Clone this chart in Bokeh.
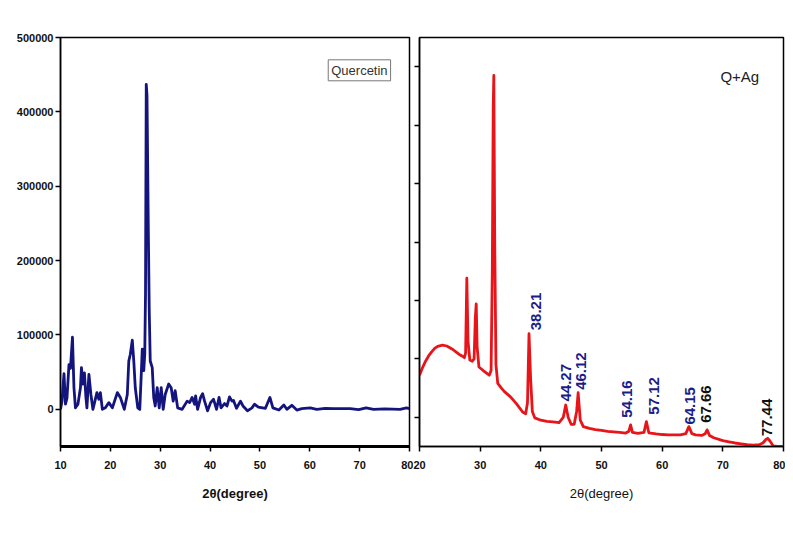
import math
from bokeh.plotting import figure
from bokeh.layouts import row
from bokeh.models import Range1d, FixedTicker, Label, NumeralTickFormatter, CustomJSTickFormatter
from bokeh.embed import file_html
from bokeh.resources import INLINE
from bokeh.core.properties import value

# ---------------- data ----------------
# Quercetin XRD (2theta, intensity)
q_theta = [10.0, 10.3, 10.7, 11.0, 11.3, 11.7, 12.0, 12.4, 12.7, 13.0, 13.5, 14.0, 14.2, 14.5, 14.8,
           15.1, 15.3, 15.7, 16.1, 16.5, 16.9, 17.3, 17.7, 18.0, 18.4, 19.0, 19.7, 20.4, 21.4, 22.0,
           22.8, 23.4, 23.7, 24.0, 24.4, 24.7, 25.0, 25.5, 25.9, 26.2, 26.4, 26.7, 26.9, 27.05, 27.2,
           27.35, 27.5, 27.6, 27.8, 28.0, 28.4, 28.7, 29.0, 29.4, 29.8, 30.2, 30.6, 31.0, 31.7, 32.2,
           32.6, 33.0, 33.5, 34.4, 35.4, 35.9, 36.4, 36.9, 37.1, 37.5, 38.1, 38.5, 38.9, 39.5, 40.1,
           40.7, 41.3, 41.8, 42.2, 42.9, 43.4, 43.9, 44.4, 44.7, 45.3, 46.1, 46.6, 47.5, 48.4, 48.9,
           49.7, 51.1, 52.0, 52.6, 53.8, 54.8, 55.4, 56.4, 57.4, 58.4, 60.1, 61.4, 63.1, 64.8, 66.5,
           68.1, 69.8, 71.3, 72.8, 75.0, 78.1, 79.4, 80.0]
q_intensity = [0, 11000, 48000, 7000, 15000, 60000, 55000, 97000, 29000, 2000, 7000, 29000, 56000, 34000, 49000,
               16000, 2000, 47000, 20000, 0, 11000, 22500, 13500, 22500, 0, 2000, 9000, 2000, 22500, 16000,
               0, 20000, 65000, 74000, 93000, 65000, 29000, 2000, 0, 47000, 81000, 52000, 74000, 155000, 437000,
               422000, 318000, 250000, 133000, 65000, 56000, 16000, 4500, 29000, 2000, 29000, 0, 20000, 34000, 29000,
               11000, 25000, 2000, 0, 11000, 9000, 16000, 6800, 18000, 0, 16000, 21000, 11000, -2000, 9000,
               13500, 0, 16000, 2000, 7700, 4500, 16700, 11000, 12000, 1400, 11000, 4500, -2000, 2000, 6800,
               3000, 1400, 16000, 2000, -1000, 5800, 0, 5400, -1000, 1000, 2000, 0, 1400, 1000, 1000,
               1000, -500, 2000, 0, 500, 0, 2000, 1000]

# Quercetin + Ag XRD (2theta, intensity, arbitrary units)
qa_theta = [20.0, 20.5, 21.0, 21.5, 22.0, 22.5, 23.0, 23.8, 24.5, 25.0, 25.5, 26.0, 26.5, 27.0, 27.4,
            27.6, 27.8, 28.0, 28.3, 28.7, 29.0, 29.2, 29.35, 29.5, 29.8, 30.5, 31.0, 31.5, 31.8, 32.0,
            32.15, 32.25, 32.4, 32.6, 32.9, 33.5, 34.0, 35.0, 36.0, 37.0, 37.5, 37.8, 38.05, 38.3, 38.6,
            39.0, 40.0, 41.0, 42.0, 43.0, 43.7, 44.1, 44.5, 45.0, 45.5, 45.9, 46.15, 46.5, 47.0, 48.0,
            49.0, 50.0, 51.0, 52.0, 53.0, 54.0, 54.5, 54.8, 55.1, 56.0, 57.0, 57.4, 57.8, 59.0, 60.0,
            61.0, 62.0, 63.0, 63.9, 64.4, 64.9, 65.5, 66.5, 67.1, 67.4, 67.8, 68.5, 70.0, 71.0, 72.0,
            73.0, 74.0, 75.0, 76.0, 76.6, 77.1, 77.4, 77.8, 78.3, 79.0, 80.0]
qa_intensity = [1720, 1850, 1960, 2050, 2120, 2180, 2215, 2235, 2220, 2190, 2160, 2120, 2080, 2050, 2020,
                2100, 3380, 2300, 1980, 1960, 2000, 2700, 2940, 2200, 1860, 1800, 1760, 1720, 1800, 3500,
                6300, 6850, 4000, 1900, 1580, 1500, 1440, 1350, 1230, 1090, 1060, 1250, 2430, 1700, 1100,
                990, 950, 930, 920, 910, 1000, 1210, 1000, 880, 880, 1100, 1420, 950, 840, 810,
                790, 775, 760, 750, 740, 730, 760, 870, 740, 725, 740, 925, 735, 715, 705,
                700, 700, 698, 720, 840, 720, 700, 690, 720, 785, 690, 650, 600, 580, 560,
                545, 530, 525, 530, 560, 620, 640, 590, 510, 500, 500]

peak_labels = ["38.21", "44.27", "46.12", "54.16", "57.12", "64.15", "67.66", "77.44"]
label_theta = [39.15, 44.15, 46.65, 54.25, 58.6, 64.6, 67.3, 77.2]
label_intensity = [2490, 1270, 1470, 990, 1045, 875, 905, 675]

q_xticks = [10, 20, 30, 40, 50, 60, 70, 80]
q_yticks = [0, 100000, 200000, 300000, 400000, 500000]
qa_xticks = [20, 30, 40, 50, 60, 70, 80]
qa_yticks = [1000, 2000, 3000, 4000, 5000, 6000, 7000]

# ---------------- styling ----------------
FONT = "Liberation Sans"
BLUE = "#14147e"
RED = "#e8141a"
LABEL_BLUE = "#1c1c8a"
label_colors = [LABEL_BLUE] * 6 + ["#111111", "#111111"]


def style_axes(p, bold=True):
    for ax in (p.xaxis[0], p.yaxis[0]):
        ax.axis_line_color = "black"
        ax.axis_line_width = 1.5
        ax.major_tick_line_color = "black"
        ax.major_tick_line_width = 1.5
        ax.major_tick_out = 5
        ax.major_tick_in = 0
        ax.minor_tick_out = 0
        ax.minor_tick_in = 0
        ax.major_label_text_font = FONT
        ax.major_label_text_font_style = "bold"
        ax.major_label_text_font_size = "11px"
        ax.major_label_text_color = "#111111"
    p.xaxis[0].major_label_standoff = 9
    p.yaxis[0].major_label_standoff = 2
    p.xaxis[0].axis_label = "2θ(degree)"
    p.xaxis[0].axis_label_text_font = FONT
    p.xaxis[0].axis_label_text_font_style = "bold" if bold else "normal"
    p.xaxis[0].axis_label_text_font_size = "13px"
    p.xaxis[0].axis_label_text_color = "#111111"
    p.xaxis[0].axis_label_standoff = 14
    p.grid.visible = False
    p.outline_line_color = "black"
    p.outline_line_width = 1.5
    p.background_fill_color = "white"
    p.border_fill_color = "white"


# ---------------- left panel: Quercetin ----------------
p1 = figure(width=413, height=528, x_range=Range1d(10, 80), y_range=Range1d(-50000, 500000),
            output_backend="svg", toolbar_location=None,
            min_border_left=60, min_border_right=4, min_border_top=37, min_border_bottom=82)
p1.line(q_theta, q_intensity, line_color=BLUE, line_width=2.8, line_join="round")
p1.xaxis.ticker = FixedTicker(ticks=q_xticks)
p1.yaxis.ticker = FixedTicker(ticks=q_yticks)
p1.yaxis.formatter = NumeralTickFormatter(format="0")
style_axes(p1, bold=True)
p1.xaxis.axis_line_width = 3
p1.add_layout(Label(x=63.7, y=470000, text="Quercetin", text_font=FONT, text_font_size="13px",
                    text_color="#333333", text_baseline="top", text_align="left",
                    border_line_color="#777777", border_line_width=1,
                    background_fill_color="white", padding=3))

# ---------------- right panel: Q+Ag ----------------
p2 = figure(width=372, height=528, x_range=Range1d(20, 80), y_range=Range1d(500, 7500),
            output_backend="svg", toolbar_location=None,
            min_border_left=6, min_border_right=2, min_border_top=36, min_border_bottom=81)
p2.line(qa_theta, qa_intensity, line_color=RED, line_width=2.8, line_join="round")
p2.text(x=label_theta, y=label_intensity, text=peak_labels, angle=math.pi / 2,
        text_align="left", text_baseline="middle", text_font=value(FONT),
        text_font_style="bold", text_font_size="15px", text_color=label_colors)
p2.xaxis.ticker = FixedTicker(ticks=qa_xticks)
p2.yaxis.ticker = FixedTicker(ticks=qa_yticks)
p2.yaxis.formatter = CustomJSTickFormatter(code="return ''")
style_axes(p2, bold=False)
p2.yaxis.major_label_standoff = 0
p2.add_layout(Label(x=69.6, y=6975, text="Q+Ag", text_font=FONT, text_font_size="15px",
                    text_color="#222222", text_baseline="top", text_align="left"))

layout = row(p1, p2)
open("out.html", "w").write(file_html(layout, INLINE))
